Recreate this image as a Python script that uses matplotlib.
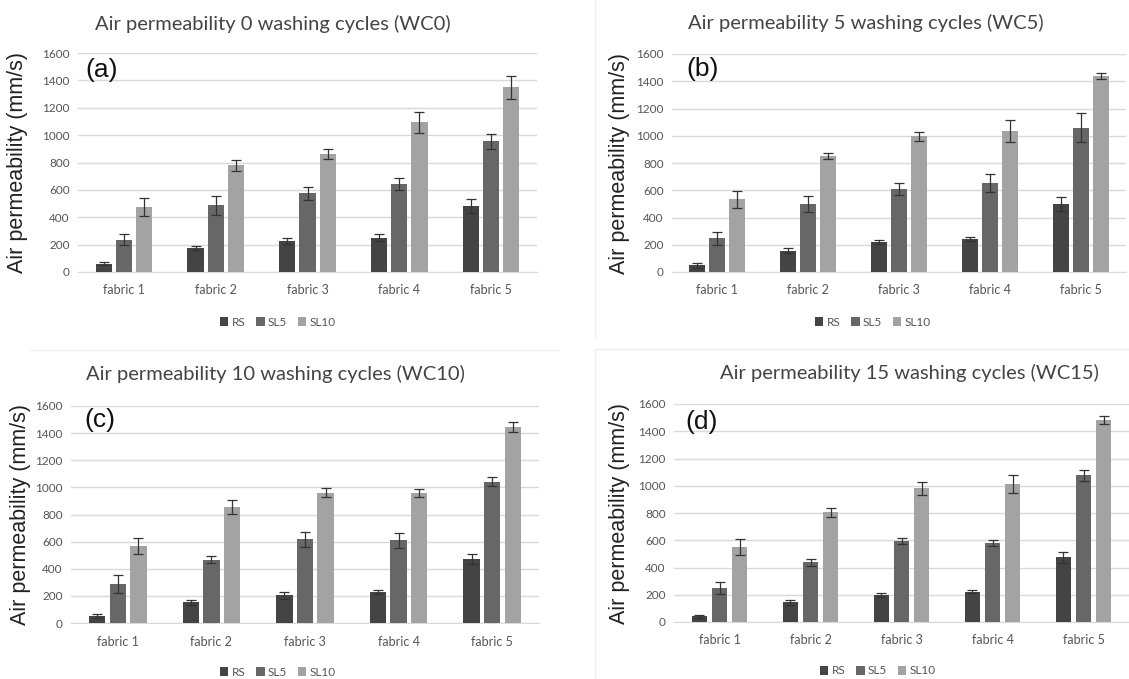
import matplotlib
matplotlib.use('agg')
from matplotlib import pyplot as plt
import numpy as np

# data (mm/s)
fabrics = ['fabric 1', 'fabric 2', 'fabric 3', 'fabric 4', 'fabric 5']
series = ['RS', 'SL5', 'SL10']

wc0_rs = [60, 175, 224, 251, 480]
wc0_sl5 = [236, 487, 575, 643, 955]
wc0_sl10 = [472, 779, 862, 1093, 1349]
wc0_rs_err = [12, 15, 23, 25, 50]
wc0_sl5_err = [42, 67, 46, 43, 54]
wc0_sl10_err = [65, 42, 33, 77, 84]

wc5_rs = [49, 157, 220, 242, 497]
wc5_sl5 = [247, 501, 609, 655, 1059]
wc5_sl10 = [533, 854, 995, 1037, 1438]
wc5_rs_err = [20, 16, 18, 16, 50]
wc5_sl5_err = [50, 60, 45, 67, 106]
wc5_sl10_err = [61, 21, 33, 82, 21]

wc10_rs = [49, 152, 203, 230, 473]
wc10_sl5 = [287, 466, 617, 610, 1041]
wc10_sl10 = [568, 855, 960, 958, 1446]
wc10_rs_err = [15, 17, 23, 15, 37]
wc10_sl5_err = [64, 25, 54, 56, 32]
wc10_sl10_err = [60, 53, 33, 32, 37]

wc15_rs = [44, 145, 198, 223, 475]
wc15_sl5 = [250, 439, 595, 578, 1076]
wc15_sl10 = [551, 806, 980, 1012, 1482]
wc15_rs_err = [11, 18, 16, 12, 39]
wc15_sl5_err = [45, 27, 20, 21, 39]
wc15_sl10_err = [61, 33, 47, 67, 32]

colors = ['#444444', '#676767', '#a3a3a3']

W, H = 1129, 679


def px_axes(fig, x0, x1, y_top, y_zero):
    # place an axes from pixel coordinates of the reference
    return fig.add_axes([x0 / W, 1 - y_zero / H, (x1 - x0) / W, (y_zero - y_top) / H])


def draw_panel(fig, box, title, letter, title_xy, letter_xy, label_x,
               legend_xy, values, errors):
    ax = px_axes(fig, *box)
    x = np.arange(len(fabrics))
    width = 0.175
    step = 0.22
    for i, (vals, errs) in enumerate(zip(values, errors)):
        ax.bar(x + (i - 1) * step, vals, width, color=colors[i], label=series[i],
               yerr=errs, error_kw=dict(ecolor='#333333', elinewidth=0.9,
                                        capsize=3.5, capthick=0.9), zorder=3)
    ax.set_xlim(-0.5, 4.5)
    ax.set_ylim(0, 1600)
    ax.set_yticks(range(0, 1601, 200))
    ax.set_xticks(x)
    ax.set_xticklabels(fabrics, family='Lato', fontsize=9, color='#555555')
    for lab in ax.get_yticklabels():
        lab.set_family('Lato')
        lab.set_fontsize(8.5)
        lab.set_color('#555555')
    ax.tick_params(length=0, pad=6)
    ax.tick_params(axis='x', pad=9)
    ax.grid(axis='y', color='#d9d9d9', linewidth=1.0, zorder=0)
    for s in ['top', 'right', 'left']:
        ax.spines[s].set_visible(False)
    ax.spines['bottom'].set_color('#d9d9d9')
    ax.spines['bottom'].set_zorder(1)

    fig.text(title_xy[0] / W, 1 - title_xy[1] / H, title, ha='center', va='center',
             family='Lato', fontsize=14.5, color='#444444')
    fig.text(letter_xy[0] / W, 1 - letter_xy[1] / H, letter, ha='center', va='center',
             family='Liberation Sans', fontsize=19, color='#111111')
    fig.text(label_x / W, 1 - (box[2] + box[3]) / 2 / H, 'Air permeability (mm/s)',
             rotation=90, ha='center', va='center', family='Liberation Sans',
             fontsize=15.5, color='#222222')
    handles, labels = ax.get_legend_handles_labels()
    fig.legend(handles, labels, loc='center', ncol=3,
               bbox_to_anchor=(legend_xy[0] / W, 1 - legend_xy[1] / H),
               frameon=False, handlelength=0.7, handleheight=0.7,
               handletextpad=0.3, columnspacing=0.9,
               prop=dict(family='Lato', size=8.5))
    for t in fig.legends[-1].get_texts():
        t.set_color('#555555')
    return ax


fig = plt.figure(figsize=(W / 100, H / 100), dpi=100)

# faint frames around the right-hand panels
fig.add_artist(plt.Line2D([595 / W, 595 / W], [1, 1 - 337 / H], color='#eeeeee', lw=1))
fig.add_artist(plt.Line2D([595 / W, 595 / W], [1 - 349 / H, 0], color='#eeeeee', lw=1))
fig.add_artist(plt.Line2D([595 / W, 1], [1 - 349 / H, 1 - 349 / H], color='#eeeeee', lw=1))
fig.add_artist(plt.Line2D([30 / W, 560 / W], [1 - 350 / H, 1 - 350 / H], color='#f3f3f3', lw=1))

draw_panel(fig, (78, 537, 53, 272), 'Air permeability 0 washing cycles (WC0)', '(a)',
           (273, 24), (102, 70), 18, (278, 322),
           [wc0_rs, wc0_sl5, wc0_sl10], [wc0_rs_err, wc0_sl5_err, wc0_sl10_err])
draw_panel(fig, (672, 1126, 54, 272), 'Air permeability 5 washing cycles (WC5)', '(b)',
           (866, 23), (703, 69), 619, (873, 322),
           [wc5_rs, wc5_sl5, wc5_sl10], [wc5_rs_err, wc5_sl5_err, wc5_sl10_err])
draw_panel(fig, (71, 539, 406, 623), 'Air permeability 10 washing cycles (WC10)', '(c)',
           (275, 374), (100, 420), 21, (278, 672),
           [wc10_rs, wc10_sl5, wc10_sl10], [wc10_rs_err, wc10_sl5_err, wc10_sl10_err])
draw_panel(fig, (674, 1129, 404, 622), 'Air permeability 15 washing cycles (WC15)', '(d)',
           (909, 373), (702, 422), 619, (878, 671),
           [wc15_rs, wc15_sl5, wc15_sl10], [wc15_rs_err, wc15_sl5_err, wc15_sl10_err])

fig.savefig('out.png', dpi=100)
